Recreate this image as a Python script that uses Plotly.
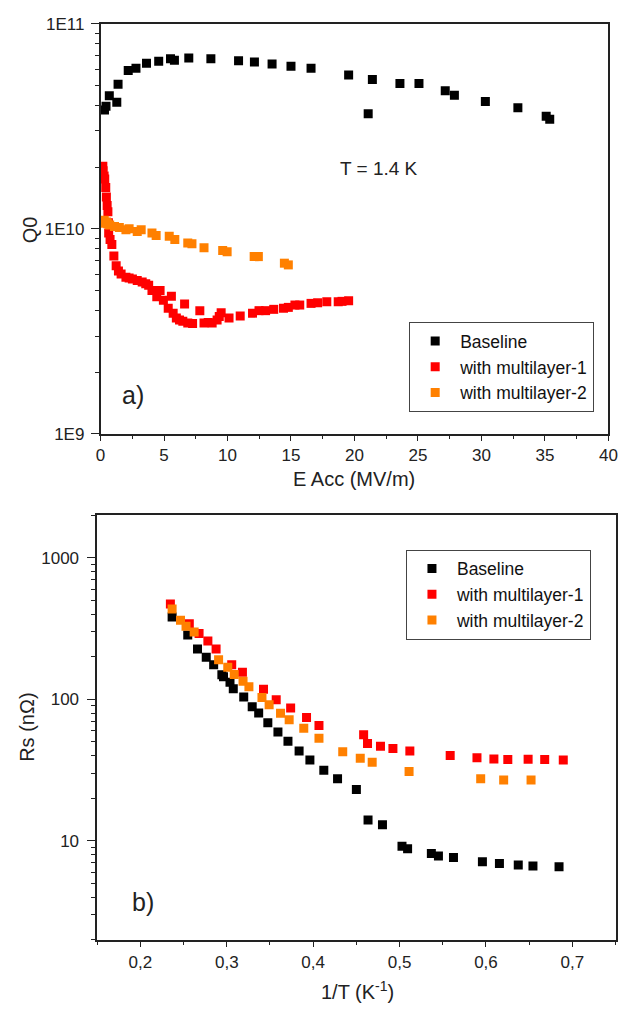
import plotly.graph_objects as go

# ---------------- Panel a) Q0 vs Eacc (T = 1.4 K) ----------------
a_base_x = [0.31, 0.43, 0.69, 1.28, 1.38, 2.18, 2.79, 3.62, 4.58, 5.51, 5.82, 6.95, 8.69,
            10.87, 12.12, 13.51, 15.0, 16.58, 19.54, 21.41, 21.08, 23.58, 25.08, 27.15,
            27.87, 30.31, 32.87, 35.1, 35.38]
a_base_y = [3.80e10, 3.96e10, 4.46e10, 4.14e10, 5.07e10, 5.91e10, 6.07e10, 6.42e10, 6.56e10,
            6.75e10, 6.64e10, 6.80e10, 6.75e10, 6.60e10, 6.51e10, 6.37e10, 6.21e10, 6.06e10,
            5.62e10, 5.34e10, 3.64e10, 5.11e10, 5.11e10, 4.71e10, 4.48e10, 4.18e10, 3.89e10,
            3.54e10, 3.42e10]

a_ml1_x = [0.18, 0.20, 0.28, 0.33, 0.41, 0.46, 0.52, 0.58, 0.62, 0.64, 0.75, 0.89, 1.05, 1.23,
           1.41, 1.62, 2.0, 2.25, 2.51, 2.89, 3.28, 3.56, 3.79, 4.05, 4.43, 4.69, 4.95, 5.33,
           5.58, 5.72, 5.97, 6.22, 6.62, 6.48, 6.87, 7.25, 7.82, 8.15, 8.48, 8.79, 9.18, 9.35,
           9.5, 10.12, 11.0, 11.97, 12.48, 13.0, 13.64, 14.41, 14.79, 15.31, 15.69, 16.58,
           17.1, 17.82, 18.72, 19.02, 19.54]
a_ml1_y = [2.02e10, 1.92e10, 1.81e10, 1.75e10, 1.59e10, 1.43e10, 1.30e10, 1.21e10, 1.07e10,
           9.54e9, 8.86e9, 8.38e9, 7.37e9, 6.60e9, 6.23e9, 6.03e9, 5.81e9, 5.76e9, 5.70e9,
           5.60e9, 5.50e9, 5.40e9, 5.30e9, 5.01e9, 4.66e9, 5.01e9, 4.49e9, 4.10e9, 4.69e9,
           3.88e9, 3.67e9, 3.59e9, 4.30e9, 3.54e9, 3.47e9, 3.45e9, 3.99e9, 3.47e9, 3.49e9,
           3.47e9, 3.59e9, 3.74e9, 3.90e9, 3.67e9, 3.76e9, 3.88e9, 3.99e9, 3.99e9, 4.05e9,
           4.10e9, 4.14e9, 4.25e9, 4.25e9, 4.33e9, 4.36e9, 4.41e9, 4.41e9, 4.43e9, 4.46e9]

a_ml2_x = [0.18, 0.29, 0.46, 0.56, 0.72, 1.1, 1.48, 2.0, 2.25, 2.89, 3.2, 4.05, 4.38, 5.41,
           5.85, 6.87, 7.2, 8.15, 9.62, 9.97, 12.1, 12.43, 14.48, 14.79]
a_ml2_y = [1.065e10, 1.10e10, 1.08e10, 1.06e10, 1.045e10, 1.025e10, 1.014e10, 9.89e9, 1.0e10,
           9.70e9, 9.89e9, 9.54e9, 9.29e9, 9.19e9, 8.86e9, 8.54e9, 8.45e9, 8.09e9, 7.85e9,
           7.74e9, 7.32e9, 7.32e9, 6.80e9, 6.67e9]

# ---------------- Panel b) Rs vs 1/T ----------------
b_base_x = [0.2367, 0.2548, 0.2661, 0.2762, 0.2848, 0.2943, 0.2962, 0.3037, 0.3075, 0.3196,
            0.3294, 0.3369, 0.3475, 0.3592, 0.3708, 0.3837, 0.3962, 0.4123, 0.4282, 0.45,
            0.4635, 0.4802, 0.5028, 0.5093, 0.5368, 0.545, 0.5624, 0.5959, 0.6156, 0.6374,
            0.6544, 0.6846]
b_base_y = [382, 284.7, 227.4, 198.8, 176, 149.5, 144.5, 132.4, 119, 104.1, 88.6, 80.1, 68.3,
            58.7, 50.5, 43.1, 37.3, 31.5, 27.5, 23.0, 14.0, 13.0, 9.13, 8.80, 8.12, 7.82, 7.61,
            7.11, 6.92, 6.73, 6.62, 6.56]

b_ml1_x = [0.2347, 0.2566, 0.2679, 0.2781, 0.2876, 0.3057, 0.3181, 0.3425, 0.3572, 0.3739,
           0.3923, 0.4067, 0.4584, 0.4629, 0.4779, 0.4923, 0.5119, 0.5586, 0.5896, 0.6092,
           0.6253, 0.6488, 0.6680, 0.6895]
b_ml1_y = [472.8, 343, 292, 258.5, 227.4, 176, 155.5, 117.8, 99.2, 86.8, 74.3, 65.4, 56.1,
           48.8, 46.7, 45.0, 43.1, 40.1, 38.7, 37.9, 37.6, 37.7, 37.6, 37.2]

b_ml2_x = [0.2367, 0.2464, 0.2528, 0.2622, 0.2905, 0.3011, 0.3086, 0.3188, 0.3256, 0.3407,
           0.349, 0.3622, 0.3722, 0.3891, 0.4067, 0.4342, 0.4545, 0.4683, 0.511, 0.5939,
           0.6205, 0.6522]
b_ml2_y = [436, 362, 329, 300, 190.6, 168.4, 149.8, 134.5, 122.8, 102.9, 91.6, 79.6, 71.7,
           62.6, 53.0, 42.7, 38.3, 35.9, 30.9, 27.5, 26.9, 26.9]

series_names = ["Baseline", "with multilayer-1", "with multilayer-2"]
colors = ["#000000", "#ff0000", "#ff8000"]

a_xticks = [0, 5, 10, 15, 20, 25, 30, 35, 40]
a_yticks = [1e9, 1e10, 1e11]
a_yticklabels = ["1E9", "1E10", "1E11"]
b_xticks = [0.2, 0.3, 0.4, 0.5, 0.6, 0.7]
b_xticklabels = ["0,2", "0,3", "0,4", "0,5", "0,6", "0,7"]
b_yticks = [10, 100, 1000]
b_yticklabels = ["10", "100", "1000"]

FONT = "Liberation Sans, Arial, sans-serif"
MS = 9

fig = go.Figure()
for name, xs, ys, c in zip(series_names, [a_base_x, a_ml1_x, a_ml2_x],
                           [a_base_y, a_ml1_y, a_ml2_y], colors):
    fig.add_trace(go.Scatter(x=xs, y=ys, mode="markers", name=name,
                             marker=dict(symbol="square", size=MS, color=c, line=dict(width=0)),
                             xaxis="x", yaxis="y", legend="legend"))
for name, xs, ys, c in zip(series_names, [b_base_x, b_ml1_x, b_ml2_x],
                           [b_base_y, b_ml1_y, b_ml2_y], colors):
    fig.add_trace(go.Scatter(x=xs, y=ys, mode="markers", name=name,
                             marker=dict(symbol="square", size=MS, color=c, line=dict(width=0)),
                             xaxis="x2", yaxis="y2", legend="legend2"))

W, H = 635, 1019
axcommon = dict(showgrid=False, zeroline=False, showline=True, linecolor="#222",
                linewidth=1.5, mirror=True, ticks="outside", tickcolor="#222",
                tickwidth=1.3, tickfont=dict(family=FONT, size=17, color="#222"))

log_minor_a = [m * 10 ** e for e in (9, 10) for m in range(2, 10)]
log_minor_b = [m * 10 ** e for e in (0, 1, 2, 3) for m in range(2, 10)]

legend_common = dict(xanchor="left", yanchor="top", bgcolor="white", bordercolor="#444",
                     borderwidth=1, itemwidth=40, tracegroupgap=0,
                     font=dict(family=FONT, size=17.5, color="#111"))

fig.update_layout(
    width=W, height=H, margin=dict(l=0, r=0, t=0, b=0),
    paper_bgcolor="white", plot_bgcolor="white", showlegend=True,
    font=dict(family=FONT, color="#222"),
    xaxis=dict(axcommon, domain=[97.7 / W, 617 / W], range=[0, 40], anchor="y",
               tickmode="array", tickvals=a_xticks, ticklen=5,
               minor=dict(ticks="outside", dtick=2.5, tick0=0, ticklen=3, tickcolor="#222")),
    yaxis=dict(axcommon, type="log", domain=[(H - 433) / H, (H - 15) / H], range=[9, 11],
               anchor="x", tickmode="array", tickvals=a_yticks, ticktext=a_yticklabels,
               ticklen=8, ticklabelstandoff=3,
               minor=dict(ticks="outside", tickmode="array", tickvals=log_minor_a, ticklen=4,
                          tickcolor="#222")),
    xaxis2=dict(axcommon, domain=[94.3 / W, 624.3 / W], range=[0.15, 0.75], anchor="y2",
                tickmode="array", tickvals=b_xticks, ticktext=b_xticklabels, ticklen=6,
                minor=dict(ticks="outside", dtick=0.05, tick0=0.15, ticklen=4,
                           tickcolor="#222")),
    yaxis2=dict(axcommon, type="log", domain=[(H - 948.3) / H, (H - 516) / H],
                range=[0.30103, 3.30103], anchor="x2", tickmode="array",
                tickvals=b_yticks, ticktext=b_yticklabels, ticklen=8, ticklabelstandoff=5,
                minor=dict(ticks="outside", tickmode="array", tickvals=log_minor_b,
                           ticklen=4, tickcolor="#222")),
    legend=dict(legend_common, x=413.3 / W, y=(H - 319) / H),
    legend2=dict(legend_common, x=410 / W, y=(H - 551) / H),
)

def ann(text, px, py, size, angle=0):
    fig.add_annotation(text=text, x=px / W, y=(H - py) / H, xref="paper", yref="paper",
                       xanchor="center", yanchor="middle", showarrow=False, textangle=angle,
                       font=dict(family=FONT, size=size, color="#222"))

ann("T = 1.4 K", 382.5, 163, 19)
ann("a)", 131, 393, 25)
ann("b)", 141, 910, 25)
ann("Q0", 25, 225, 20, -90)
ann("Rs (nΩ)", 23, 732, 20, -90)
ann("E Acc (MV/m)", 357, 479, 20)
ann("1/T (K<sup>-1</sup>)", 360, 1000, 20)

fig.write_html("out.html")
